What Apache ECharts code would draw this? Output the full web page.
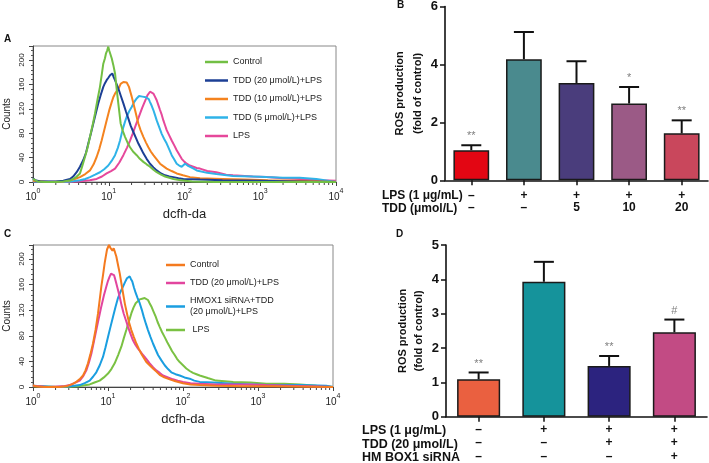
<!DOCTYPE html>
<html><head><meta charset="utf-8">
<script src="https://cdn.jsdelivr.net/npm/echarts@6/dist/echarts.min.js"></script>
<style>html,body{margin:0;padding:0;background:#fff}#c{width:709px;height:463px}</style>
</head><body><div id="c"></div><script>
// ---------------- DATA ----------------
// Histogram curves: [log10(dcfh-da intensity), counts]
const A_control = [[0,5],[0.02,2],[0.06,1],[0.15,0],[0.3,0],[0.4,1],[0.5,3],[0.56,7],[0.62,14],[0.65,26],[0.686,41],[0.72,56],[0.752,74],[0.79,95],[0.818,112],[0.85,134],[0.884,156],[0.91,178],[0.928,194],[0.95,203],[0.964,211],[0.98,216],[0.994,222],[1.005,216],[1.017,214],[1.039,203],[1.06,192],[1.083,178],[1.105,152],[1.127,128],[1.157,96],[1.185,84],[1.215,74],[1.25,64],[1.281,57],[1.32,50],[1.369,44],[1.41,38],[1.457,33],[1.5,29],[1.545,25],[1.59,20],[1.633,16],[1.69,12],[1.743,9],[1.8,7],[1.853,5],[1.95,3],[2.1,1],[2.4,0],[4,0]];
const A_tdd20 = [[0,6],[0.03,3],[0.1,1],[0.3,1],[0.4,2],[0.488,5],[0.53,9],[0.576,16],[0.62,25],[0.664,36],[0.7,48],[0.73,63],[0.765,80],[0.796,96],[0.83,113],[0.862,129],[0.895,143],[0.928,156],[0.95,162],[0.972,167],[0.995,171],[1.017,175],[1.047,178],[1.065,172],[1.083,167],[1.105,160],[1.127,153],[1.16,141],[1.193,129],[1.226,116],[1.259,104],[1.29,92],[1.325,82],[1.36,72],[1.391,63],[1.425,55],[1.457,47],[1.5,38],[1.545,30],[1.59,24],[1.633,19],[1.69,14],[1.743,11],[1.8,9],[1.853,8],[1.92,6],[1.985,5],[2.205,4],[2.5,3],[3,2],[3.5,1],[4,0]];
const A_tdd10 = [[0,2],[0.2,0],[0.4,1],[0.488,3],[0.55,5],[0.62,8],[0.69,13],[0.752,19],[0.8,29],[0.84,41],[0.875,54],[0.906,68],[0.94,85],[0.972,101],[1.005,117],[1.039,131],[1.06,139],[1.083,145],[1.105,149],[1.127,151],[1.14,156],[1.157,161],[1.175,163],[1.193,164],[1.215,162],[1.237,163],[1.267,156],[1.285,148],[1.303,140],[1.325,129],[1.347,118],[1.37,106],[1.391,96],[1.42,85],[1.457,74],[1.49,65],[1.523,57],[1.555,50],[1.589,44],[1.633,37],[1.677,30],[1.72,26],[1.765,22],[1.83,18],[1.897,14],[1.98,11],[2.073,8],[2.205,6],[2.5,5],[2.8,4],[3.1,3],[3.5,2],[3.8,1],[4,0]];
const A_tdd5 = [[0,1],[0.3,0],[0.5,1],[0.62,3],[0.69,5],[0.752,8],[0.82,12],[0.884,16],[0.94,21],[0.994,27],[1.04,35],[1.083,44],[1.12,56],[1.149,68],[1.17,79],[1.193,90],[1.215,99],[1.237,107],[1.27,116],[1.303,123],[1.335,131],[1.369,137],[1.4,141],[1.422,142],[1.445,140],[1.466,137],[1.49,139],[1.51,140],[1.528,136],[1.545,131],[1.567,125],[1.589,118],[1.61,110],[1.633,101],[1.666,90],[1.699,79],[1.73,71],[1.765,63],[1.8,53],[1.831,44],[1.865,37],[1.897,30],[1.93,27],[1.963,25],[1.985,28],[2.007,30],[2.04,27],[2.073,25],[2.12,22],[2.161,19],[2.3,15],[2.42,13],[2.64,10],[2.9,9],[3.08,8],[3.3,7],[3.52,7],[3.74,5],[3.85,3],[3.95,1],[4,0]];
const A_lps = [[0,1],[0.4,0],[0.6,1],[0.75,3],[0.84,5],[0.91,9],[0.972,14],[1.03,18],[1.083,22],[1.14,32],[1.193,44],[1.24,56],[1.281,68],[1.315,79],[1.347,90],[1.38,101],[1.413,112],[1.44,121],[1.466,129],[1.49,136],[1.51,142],[1.545,148],[1.567,146],[1.589,145],[1.61,140],[1.633,134],[1.655,126],[1.677,118],[1.7,110],[1.721,101],[1.743,93],[1.765,85],[1.8,76],[1.831,68],[1.865,60],[1.897,52],[1.93,45],[1.963,38],[2.0,33],[2.029,30],[2.07,27],[2.117,25],[2.16,23],[2.205,22],[2.3,18],[2.42,16],[2.55,12],[2.64,11],[2.9,9],[3.08,8],[3.3,6],[3.52,5],[3.8,3],[4,2]];

const C_control = [[0,3],[0.03,1],[0.15,0],[0.35,0],[0.44,1],[0.489,3],[0.53,5],[0.578,8],[0.62,12],[0.667,18],[0.7,26],[0.733,37],[0.765,51],[0.8,68],[0.835,90],[0.867,115],[0.89,137],[0.911,157],[0.935,176],[0.956,194],[0.972,205],[0.987,215],[1.013,222],[1.03,218],[1.044,215],[1.06,213],[1.076,217],[1.095,210],[1.111,204],[1.135,190],[1.156,178],[1.18,161],[1.2,147],[1.225,130],[1.253,115],[1.28,101],[1.311,89],[1.345,78],[1.378,68],[1.41,60],[1.444,52],[1.48,45],[1.511,39],[1.555,34],[1.6,29],[1.645,24],[1.689,19],[1.75,15],[1.823,12],[1.9,9],[2.0,6],[2.1,4],[2.223,3],[2.44,2],[2.8,1],[3.2,1],[4,0]];
const C_tdd20 = [[0,2],[0.2,0],[0.4,1],[0.489,3],[0.55,6],[0.623,10],[0.67,17],[0.711,26],[0.745,38],[0.778,52],[0.81,70],[0.844,89],[0.878,108],[0.911,126],[0.945,143],[0.978,157],[1.0,166],[1.023,173],[1.04,177],[1.058,180],[1.08,175],[1.095,169],[1.111,162],[1.135,151],[1.156,141],[1.18,128],[1.209,115],[1.24,104],[1.267,94],[1.3,83],[1.333,73],[1.365,66],[1.4,60],[1.435,55],[1.467,50],[1.51,44],[1.556,37],[1.6,31],[1.644,26],[1.69,22],[1.733,18],[1.8,15],[1.867,12],[1.93,10],[2.0,8],[2.1,6],[2.223,5],[2.44,4],[2.7,4],[2.89,4],[3.1,3],[3.4,2],[3.7,1],[4,0]];
const C_hmox = [[0,2],[0.3,0],[0.5,1],[0.623,3],[0.69,6],[0.756,10],[0.8,16],[0.844,23],[0.89,34],[0.933,47],[0.967,62],[1.0,78],[1.033,94],[1.067,110],[1.1,125],[1.133,139],[1.167,149],[1.2,157],[1.227,164],[1.253,170],[1.289,173],[1.305,169],[1.324,165],[1.345,156],[1.369,147],[1.395,139],[1.423,131],[1.45,121],[1.476,110],[1.505,99],[1.533,89],[1.567,78],[1.6,68],[1.633,59],[1.667,50],[1.71,42],[1.756,34],[1.8,28],[1.844,23],[1.9,20],[1.956,18],[2.02,15],[2.089,13],[2.15,10],[2.223,8],[2.4,7],[2.67,5],[3.11,3],[3.56,3],[3.91,2],[4,0]];
const C_lps = [[0,1],[0.4,0],[0.6,1],[0.756,4],[0.82,7],[0.889,10],[0.945,15],[1.0,21],[1.045,28],[1.089,37],[1.135,50],[1.178,63],[1.21,76],[1.244,89],[1.28,103],[1.311,115],[1.34,124],[1.369,131],[1.395,134],[1.423,137],[1.455,138],[1.489,139],[1.51,138],[1.533,136],[1.555,131],[1.578,126],[1.607,118],[1.636,110],[1.66,102],[1.689,94],[1.72,86],[1.756,78],[1.79,70],[1.823,63],[1.855,56],[1.889,50],[1.92,44],[1.956,39],[2.0,34],[2.044,29],[2.09,25],[2.133,22],[2.18,20],[2.223,18],[2.33,14],[2.44,10],[2.67,8],[2.9,7],[3.11,5],[3.35,5],[3.56,4],[3.78,2],[3.9,1],[4,0]];

const namesA = ['Control', 'TDD (20 μmol/L)+LPS', 'TDD (10 μmol/L)+LPS', 'TDD (5 μmol/L)+LPS', 'LPS'];
const namesC = ['Control\u200b', 'TDD (20 μmol/L)+LPS\u200b', 'HMOX1 siRNA+TDD\n(20 μmol/L)+LPS', ' LPS'];

// log-axis ticks
const decades = [0, 1, 2, 3, 4];
const minorMultipliers = [2, 3, 4, 5, 6, 7, 8, 9];

// Bar panel B
const rowLPS_B = ['–', '+', '+', '+', '+'];
const rowTDD_B = ['–', '–', '5', '10', '20'];
const valuesB = [1.04, 4.18, 3.36, 2.65, 1.62];
const errB = [1.21, 5.12, 4.11, 3.22, 2.07];
const starsB = ['**', '', '', '*', '**'];
const rowTitlesB = ['LPS (1 μg/mL)', 'TDD (μmol/L)'];

// Bar panel D
const rowLPS_D = ['–', '+', '+', '+'];
const rowTDD_D = ['–', '–', '+', '+'];
const rowSi_D = ['–', '–', '–', '+'];
const valuesD = [1.09, 3.93, 1.48, 2.46];
const errD = [1.29, 4.51, 1.77, 2.83];
const starsD = ['**', '', '**', '#'];
const rowTitlesD = ['LPS (1 μg/mL)', 'TDD (20 μmol/L)', 'HM BOX1 siRNA'];

// ---------------- STYLE ----------------
const F = "'Liberation Sans', Arial, Helvetica, sans-serif";
const FN = "'Liberation Sans Narrow', 'Liberation Sans', Arial, sans-serif";
const colA = ['#72bf44', '#1c3f95', '#f4831f', '#2fb3e8', '#e6489b'];
const colC = ['#f47a1f', '#e2459e', '#1a9ee0', '#7ac143'];
const colB = ['#e30613', '#4a8a8e', '#4a3d7c', '#9b5a86', '#c9475c'];
const colD = ['#ea6040', '#15939b', '#2c237f', '#c24b84'];

const chart = echarts.init(document.getElementById('c'), null, {renderer: 'canvas'});

const minorTicks = [];
decades.slice(0, -1).forEach(d => minorMultipliers.forEach(m => minorTicks.push([d + Math.log10(m), 0])));

function logXAxis(gi) {
  return {
    gridIndex: gi, type: 'value', min: 0, max: 4, interval: 1,
    axisLine: {show: true, lineStyle: {color: '#444', width: 1}},
    axisTick: {show: true, length: 4, lineStyle: {color: '#444'}},
    splitLine: {show: false},
    axisLabel: {
      margin: 6,
      formatter: v => '{b|10}{s|' + v + '}',
      rich: {
        b: {fontSize: 10, lineHeight: 18, color: '#222', fontFamily: FN},
        s: {fontSize: 7, lineHeight: 8, verticalAlign: 'top', color: '#222', fontFamily: FN}
      }
    },
    name: 'dcfh-da', nameLocation: 'middle', nameGap: 26,
    nameTextStyle: {fontSize: 13, color: '#222', fontFamily: F}
  };
}
function countYAxis(gi, max) {
  return {
    gridIndex: gi, type: 'value', min: 0, max: max, interval: 40,
    axisLine: {show: true, lineStyle: {color: '#444', width: 1}},
    axisTick: {show: true, length: 4, lineStyle: {color: '#444'}},
    minorTick: {show: true, splitNumber: 5, length: 2, lineStyle: {color: '#555'}},
    splitLine: {show: false},
    axisLabel: {rotate: 90, margin: 7, fontSize: 8, color: '#222', fontFamily: FN, showMaxLabel: false,
      formatter: v => (v % 40 === 0 ? String(v) : '')},
    name: 'Counts', nameLocation: 'middle', nameGap: 21,
    nameTextStyle: {fontSize: 10, color: '#222', fontFamily: F}
  };
}
function catXAxis(gi, cats, lh, margin, fs) {
  return {
    gridIndex: gi, type: 'category', data: cats,
    axisLine: {show: true, lineStyle: {color: '#111', width: 1.6}},
    axisTick: {show: true, alignWithLabel: true, length: 5, lineStyle: {color: '#111', width: 1.5}},
    axisLabel: {interval: 0, margin: margin, fontSize: fs, fontWeight: 'bold', lineHeight: lh, color: '#111', fontFamily: F}
  };
}
function rosYAxis(gi, max, interval, gap, lh) {
  return {
    gridIndex: gi, type: 'value', min: 0, max: max, interval: interval,
    axisLine: {show: true, lineStyle: {color: '#111', width: 1.6}},
    axisTick: {show: true, length: 5, lineStyle: {color: '#111', width: 1.5}},
    splitLine: {show: false},
    axisLabel: {margin: 7, fontSize: 13, fontWeight: 'bold', color: '#111', fontFamily: F},
    name: 'ROS production\n(fold of control)', nameLocation: 'middle', nameGap: gap,
    nameTextStyle: {fontSize: 11, fontWeight: 'bold', lineHeight: lh, color: '#111', fontFamily: F}
  };
}
function lineSeries(name, data, color, xi) {
  return {name: name, type: 'line', xAxisIndex: xi, yAxisIndex: xi, data: data, showSymbol: false,
    symbol: 'none', lineStyle: {color: color, width: 2}, itemStyle: {color: color}, silent: true};
}
function minorTickSeries(xi) {
  return {type: 'custom', xAxisIndex: xi, yAxisIndex: xi, data: minorTicks, silent: true, clip: false,
    encode: {x: 0, y: 1},
    renderItem: (p, api) => {
      const pt = api.coord([api.value(0), 0]);
      return {type: 'line', shape: {x1: pt[0], y1: pt[1], x2: pt[0], y2: pt[1] + 3}, style: {stroke: '#444', lineWidth: 1}};
    }};
}
function errSeries(xi, vals, errs, stars) {
  return {type: 'custom', xAxisIndex: xi, yAxisIndex: xi, z: 5, silent: true, clip: false,
    data: vals.map((v, i) => [i, v, errs[i]]), encode: {x: 0, y: 2},
    renderItem: (p, api) => {
      const i = api.value(0);
      const b = api.coord([i, api.value(1)]);
      const t = api.coord([i, api.value(2)]);
      const ch = [
        {type: 'line', shape: {x1: b[0], y1: b[1], x2: t[0], y2: t[1]}, style: {stroke: '#111', lineWidth: 2}},
        {type: 'line', shape: {x1: t[0] - 10, y1: t[1], x2: t[0] + 10, y2: t[1]}, style: {stroke: '#111', lineWidth: 2}}
      ];
      const s = stars[p.dataIndex];
      if (s) ch.push({type: 'text', x: t[0], y: t[1] - 9, style: {text: s, fill: '#808080', fontSize: 11, fontFamily: F, align: 'center', verticalAlign: 'middle'}});
      return {type: 'group', children: ch};
    }};
}

const catsB = rowLPS_B.map((v, i) => v + '\n' + rowTDD_B[i]);
const catsD = rowLPS_D.map((v, i) => v + '\n' + rowTDD_D[i] + '\n' + rowSi_D[i]);

const graphics = [
  {type: 'text', left: 4, top: 34, style: {text: 'A', fontSize: 10, fontWeight: 'bold', fontFamily: F, fill: '#111'}},
  {type: 'text', left: 397, top: 0, style: {text: 'B', fontSize: 10, fontWeight: 'bold', fontFamily: F, fill: '#111'}},
  {type: 'text', left: 4, top: 229, style: {text: 'C', fontSize: 10, fontWeight: 'bold', fontFamily: F, fill: '#111'}},
  {type: 'text', left: 396, top: 229, style: {text: 'D', fontSize: 10, fontWeight: 'bold', fontFamily: F, fill: '#111'}}
];
rowTitlesB.forEach((t, i) => graphics.push({type: 'text', left: 382, top: 189.2 + i * 12.5,
  style: {text: t, fontSize: 12, fontWeight: 'bold', lineHeight: 13, fontFamily: F, fill: '#111'}}));
rowTitlesD.forEach((t, i) => graphics.push({type: 'text', left: 362, top: 424 + i * 13.4,
  style: {text: t, fontSize: 12.5, fontWeight: 'bold', lineHeight: 13.4, fontFamily: F, fill: '#111'}}));

const option = {
  animation: false,
  backgroundColor: '#fff',
  textStyle: {fontFamily: F},
  grid: [
    {left: 33, top: 46, width: 303, height: 136, show: true, borderColor: '#888', borderWidth: 1},
    {left: 445, top: 6, width: 263, height: 174.3},
    {left: 33, top: 245, width: 300, height: 142, show: true, borderColor: '#888', borderWidth: 1},
    {left: 446, top: 245, width: 261, height: 172.7}
  ],
  xAxis: [logXAxis(0), catXAxis(1, catsB, 12.5, 9, 12), logXAxis(2), catXAxis(3, catsD, 13.4, 6, 12)],
  yAxis: [countYAxis(0, 223), rosYAxis(1, 6, 2, 15, 18), countYAxis(2, 222), rosYAxis(3, 5, 1, 19, 16)],
  legend: [
    {orient: 'vertical', left: 205, top: 56, padding: 0, itemWidth: 23, itemHeight: 2.5, itemGap: 6.5, icon: 'rect',
      selectedMode: false, data: namesA, textStyle: {fontSize: 9, lineHeight: 12, color: '#222', fontFamily: F}},
    {orient: 'vertical', left: 166, top: 259.5, padding: 0, itemWidth: 19, itemHeight: 2.5, itemGap: 7, icon: 'rect',
      selectedMode: false, data: namesC, textStyle: {fontSize: 9, lineHeight: 11, color: '#222', fontFamily: F}}
  ],
  series: [
    lineSeries(namesA[4], A_lps, colA[4], 0),
    lineSeries(namesA[3], A_tdd5, colA[3], 0),
    lineSeries(namesA[2], A_tdd10, colA[2], 0),
    lineSeries(namesA[1], A_tdd20, colA[1], 0),
    lineSeries(namesA[0], A_control, colA[0], 0),
    minorTickSeries(0),
    {type: 'bar', xAxisIndex: 1, yAxisIndex: 1, barWidth: '68%', silent: true,
      data: valuesB.map((v, i) => ({value: v, itemStyle: {color: colB[i]}})),
      itemStyle: {borderColor: '#1a1a1a', borderWidth: 1.5}},
    errSeries(1, valuesB, errB, starsB),
    lineSeries(namesC[3], C_lps, colC[3], 2),
    lineSeries(namesC[2], C_hmox, colC[2], 2),
    lineSeries(namesC[1], C_tdd20, colC[1], 2),
    lineSeries(namesC[0], C_control, colC[0], 2),
    minorTickSeries(2),
    {type: 'bar', xAxisIndex: 3, yAxisIndex: 3, barWidth: '66%', silent: true,
      data: valuesD.map((v, i) => ({value: v, itemStyle: {color: colD[i]}})),
      itemStyle: {borderColor: '#1a1a1a', borderWidth: 1.5}},
    errSeries(3, valuesD, errD, starsD)
  ],
  graphic: graphics
};
chart.setOption(option);
</script></body></html>
